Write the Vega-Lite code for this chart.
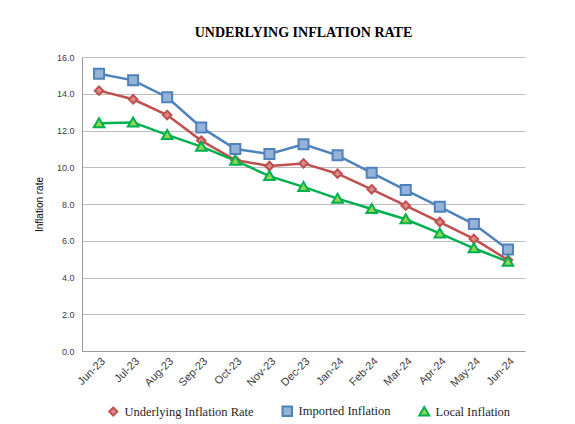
{
  "$schema": "https://vega.github.io/schema/vega-lite/v6.json",
  "width": 443,
  "height": 294,
  "autosize": {"type": "none"},
  "padding": {"left": 82, "top": 57, "right": 50, "bottom": 73},
  "background": "white",
  "title": {
    "text": "UNDERLYING INFLATION RATE",
    "font": "Liberation Serif",
    "fontSize": 14,
    "fontWeight": "bold",
    "color": "#000000",
    "anchor": "middle",
    "offset": 13
  },
  "data": {
    "values": [
      {"month": "Jun-23", "series": "Underlying Inflation Rate", "value": 14.17},
      {"month": "Jul-23", "series": "Underlying Inflation Rate", "value": 13.70},
      {"month": "Aug-23", "series": "Underlying Inflation Rate", "value": 12.84},
      {"month": "Sep-23", "series": "Underlying Inflation Rate", "value": 11.45},
      {"month": "Oct-23", "series": "Underlying Inflation Rate", "value": 10.39},
      {"month": "Nov-23", "series": "Underlying Inflation Rate", "value": 10.07},
      {"month": "Dec-23", "series": "Underlying Inflation Rate", "value": 10.21},
      {"month": "Jan-24", "series": "Underlying Inflation Rate", "value": 9.65},
      {"month": "Feb-24", "series": "Underlying Inflation Rate", "value": 8.80},
      {"month": "Mar-24", "series": "Underlying Inflation Rate", "value": 7.91},
      {"month": "Apr-24", "series": "Underlying Inflation Rate", "value": 7.02},
      {"month": "May-24", "series": "Underlying Inflation Rate", "value": 6.10},
      {"month": "Jun-24", "series": "Underlying Inflation Rate", "value": 4.95},
      {"month": "Jun-23", "series": "Imported Inflation", "value": 15.09},
      {"month": "Jul-23", "series": "Imported Inflation", "value": 14.73},
      {"month": "Aug-23", "series": "Imported Inflation", "value": 13.81},
      {"month": "Sep-23", "series": "Imported Inflation", "value": 12.17},
      {"month": "Oct-23", "series": "Imported Inflation", "value": 10.99},
      {"month": "Nov-23", "series": "Imported Inflation", "value": 10.72},
      {"month": "Dec-23", "series": "Imported Inflation", "value": 11.25},
      {"month": "Jan-24", "series": "Imported Inflation", "value": 10.65},
      {"month": "Feb-24", "series": "Imported Inflation", "value": 9.70},
      {"month": "Mar-24", "series": "Imported Inflation", "value": 8.76},
      {"month": "Apr-24", "series": "Imported Inflation", "value": 7.85},
      {"month": "May-24", "series": "Imported Inflation", "value": 6.91},
      {"month": "Jun-24", "series": "Imported Inflation", "value": 5.53},
      {"month": "Jun-23", "series": "Local Inflation", "value": 12.39},
      {"month": "Jul-23", "series": "Local Inflation", "value": 12.44},
      {"month": "Aug-23", "series": "Local Inflation", "value": 11.76},
      {"month": "Sep-23", "series": "Local Inflation", "value": 11.12},
      {"month": "Oct-23", "series": "Local Inflation", "value": 10.36},
      {"month": "Nov-23", "series": "Local Inflation", "value": 9.52},
      {"month": "Dec-23", "series": "Local Inflation", "value": 8.93},
      {"month": "Jan-24", "series": "Local Inflation", "value": 8.29},
      {"month": "Feb-24", "series": "Local Inflation", "value": 7.73},
      {"month": "Mar-24", "series": "Local Inflation", "value": 7.17},
      {"month": "Apr-24", "series": "Local Inflation", "value": 6.40},
      {"month": "May-24", "series": "Local Inflation", "value": 5.59},
      {"month": "Jun-24", "series": "Local Inflation", "value": 4.86}
    ]
  },
  "encoding": {
    "x": {
      "field": "month",
      "type": "ordinal",
      "sort": null,
      "scale": {"paddingInner": 0, "paddingOuter": 0.5},
      "axis": {
        "title": null,
        "labelAngle": -45,
        "labelAlign": "right",
        "labelBaseline": "top",
        "labelFont": "Liberation Sans",
        "labelFontSize": 11,
        "labelColor": "#404040",
        "labelPadding": 4,
        "ticks": false,
        "domainColor": "#9a9a9a",
        "domainWidth": 1,
        "grid": false
      }
    },
    "y": {
      "field": "value",
      "type": "quantitative",
      "scale": {"domain": [0, 16], "nice": false},
      "axis": {
        "title": "Inflation rate",
        "titleFont": "Liberation Sans",
        "titleFontSize": 10,
        "titleFontWeight": "normal",
        "titleColor": "#000000",
        "titlePadding": 12,
        "values": [0, 2, 4, 6, 8, 10, 12, 14, 16],
        "format": ".1f",
        "labelFont": "Liberation Sans",
        "labelFontSize": 9,
        "labelColor": "#404040",
        "labelPadding": 8,
        "ticks": false,
        "domainColor": "#9a9a9a",
        "grid": true,
        "gridColor": "#bcbcbc",
        "gridWidth": 1.2
      }
    }
  },
  "layer": [
    {
      "mark": {"type": "line", "strokeWidth": 2.5},
      "encoding": {
        "stroke": {
          "field": "series",
          "type": "nominal",
          "scale": {
            "domain": ["Underlying Inflation Rate", "Imported Inflation", "Local Inflation"],
            "range": ["#C0504D", "#4F81BD", "#00B050"]
          },
          "legend": {"title": null}
        }
      }
    },
    {
      "mark": {"type": "point", "filled": true, "strokeWidth": 2, "opacity": 1, "size": 100},
      "encoding": {
        "shape": {
          "field": "series",
          "type": "nominal",
          "scale": {
            "domain": ["Underlying Inflation Rate", "Imported Inflation", "Local Inflation"],
            "range": [
              "M0,-0.85L0.85,0L0,0.85L-0.85,0Z",
              "M-1,-1H1V1H-1Z",
              "M0,-1L1.05,0.8H-1.05Z"
            ]
          },
          "legend": {"title": null}
        },
        "fill": {
          "field": "series",
          "type": "nominal",
          "scale": {
            "domain": ["Underlying Inflation Rate", "Imported Inflation", "Local Inflation"],
            "range": ["#D98C8A", "#95B3D7", "#8FD64F"]
          },
          "legend": {"title": null}
        },
        "stroke": {
          "field": "series",
          "type": "nominal",
          "legend": {"title": null}
        }
      }
    }
  ],
  "config": {
    "view": {"stroke": null},
    "legend": {
      "orient": "none",
      "legendX": 25,
      "legendY": 348,
      "direction": "horizontal",
      "labelFont": "Liberation Serif",
      "labelFontSize": 12.5,
      "labelColor": "#262626",
      "columnPadding": 24,
      "symbolSize": 90,
      "symbolStrokeWidth": 2,
      "labelOffset": 5,
      "padding": 0
    }
  }
}
